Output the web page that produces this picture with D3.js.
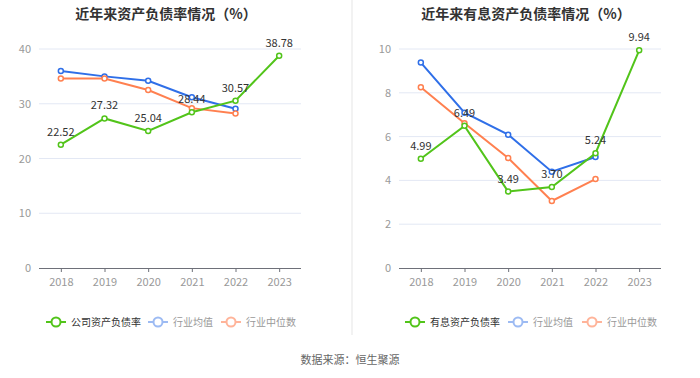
<!DOCTYPE html>
<html><head><meta charset="utf-8">
<script src="https://cdn.jsdelivr.net/npm/d3@7"></script>
<style>body{margin:0;background:#fff;}svg{display:block;font-family:"Noto Sans CJK SC","Noto Sans",sans-serif;}</style>
</head><body><svg id="c" width="700" height="378"></svg>
<script>
const years = ["2018","2019","2020","2021","2022","2023"];
const leftTitle = "近年来资产负债率情况（%）";
const leftCompany = [22.52, 27.32, 25.04, 28.44, 30.57, 38.78];
const leftAvg = [36.0, 35.0, 34.2, 31.2, 29.1];
const leftMedian = [34.6, 34.6, 32.5, 29.2, 28.2];
const leftTicks = [0, 10, 20, 30, 40];
const leftNames = ["公司资产负债率", "行业均值", "行业中位数"];

const rightTitle = "近年来有息资产负债率情况（%）";
const rightCompany = [4.99, 6.49, 3.49, 3.70, 5.24, 9.94];
const rightAvg = [9.38, 7.09, 6.09, 4.40, 5.07];
const rightMedian = [8.25, 6.61, 5.02, 3.06, 4.06];
const rightTicks = [0, 2, 4, 6, 8, 10];
const rightNames = ["有息资产负债率", "行业均值", "行业中位数"];

const source = "数据来源：恒生聚源";

const svg = d3.select("#c");
const colors = ["#52c41a", "#2f6fe8", "#ff8050"];
const legendColors = ["#52c41a", "#9dbbf3", "#ffb49a"];
const legendText = ["#333", "#999", "#999"];

svg.append("line").attr("x1",352).attr("x2",352).attr("y1",0).attr("y2",335)
  .attr("stroke","#f2f2f2").attr("stroke-width",2);

function panel(ox, title, company, avg, median, ticks, names, legendX, offs) {
  const g = svg.append("g");
  const x0 = ox + 39, x1 = ox + 301;
  const x = d3.scaleBand().domain(years).range([x0, x1]);
  const y = d3.scaleLinear().domain([0, d3.max(ticks)]).range([268, 49]);
  const cx = d => x(d) + x.bandwidth()/2;

  g.append("text").attr("x", ox + 166).attr("y", 19).attr("text-anchor","middle")
    .attr("font-size",14).attr("font-weight","bold").attr("fill","#333").text(title);

  g.selectAll(".grid").data(ticks.filter(t=>t>0)).join("line")
    .attr("x1",x0).attr("x2",x1).attr("y1",d=>y(d)).attr("y2",d=>y(d))
    .attr("stroke","#e3e8f4").attr("stroke-width",1);
  g.selectAll(".yl").data(ticks).join("text")
    .attr("x", x0 - 8).attr("y", d=>y(d)+4).attr("text-anchor","end")
    .attr("font-size",11).attr("fill","#999").text(d=>d);
  const xa = g.append("g").attr("transform","translate(0,268)")
    .call(d3.axisBottom(d3.scalePoint().domain(years).range([cx(years[0]), cx(years[5])])).tickSize(4).tickPadding(6));
  xa.select(".domain").remove();
  xa.selectAll("line").attr("stroke","#6e7079");
  xa.selectAll("text").attr("font-size",11).attr("fill","#999").attr("font-family",'"Noto Sans CJK SC","Noto Sans",sans-serif');
  g.append("line").attr("x1",x0).attr("x2",x1).attr("y1",268.5).attr("y2",268.5).attr("stroke","#6e7079");

  const line = d3.line().x((d,i)=>cx(years[i])).y(d=>y(d));
  const series = [company, avg, median];
  [1,2,0].forEach(k => {
    const data = series[k];
    g.append("path").attr("d", line(data)).attr("fill","none")
      .attr("stroke", colors[k]).attr("stroke-width",2);
    g.selectAll(".p"+k).data(data).join("circle")
      .attr("cx",(d,i)=>cx(years[i])).attr("cy",d=>y(d)).attr("r",2.5)
      .attr("fill","#fff").attr("stroke",colors[k]).attr("stroke-width",1.5);
  });
  g.selectAll(".lbl").data(company).join("text")
    .attr("x",(d,i)=>cx(years[i])).attr("y",d=>y(d)-9).attr("text-anchor","middle")
    .attr("font-size",11).attr("fill","#333").text(d=>d.toFixed(2));

  names.forEach((n,k)=>{
    const lx = legendX + offs[k];
    g.append("line").attr("x1",lx).attr("x2",lx+20).attr("y1",322).attr("y2",322)
      .attr("stroke",legendColors[k]).attr("stroke-width",2);
    g.append("circle").attr("cx",lx+10).attr("cy",322).attr("r",4.5)
      .attr("fill","#fff").attr("stroke",legendColors[k]).attr("stroke-width",2);
    g.append("text").attr("x",lx+25).attr("y",325.5).attr("font-size",10)
      .attr("fill",legendText[k]).text(n);
  });
}

panel(0, leftTitle, leftCompany, leftAvg, leftMedian, leftTicks, leftNames, 46, [0, 102, 175]);
panel(360, rightTitle, rightCompany, rightAvg, rightMedian, rightTicks, rightNames, 405, [0, 103, 177]);

svg.append("text").attr("x",350).attr("y",364).attr("text-anchor","middle")
  .attr("font-size",11).attr("fill","#666").text(source);
</script></body></html>
